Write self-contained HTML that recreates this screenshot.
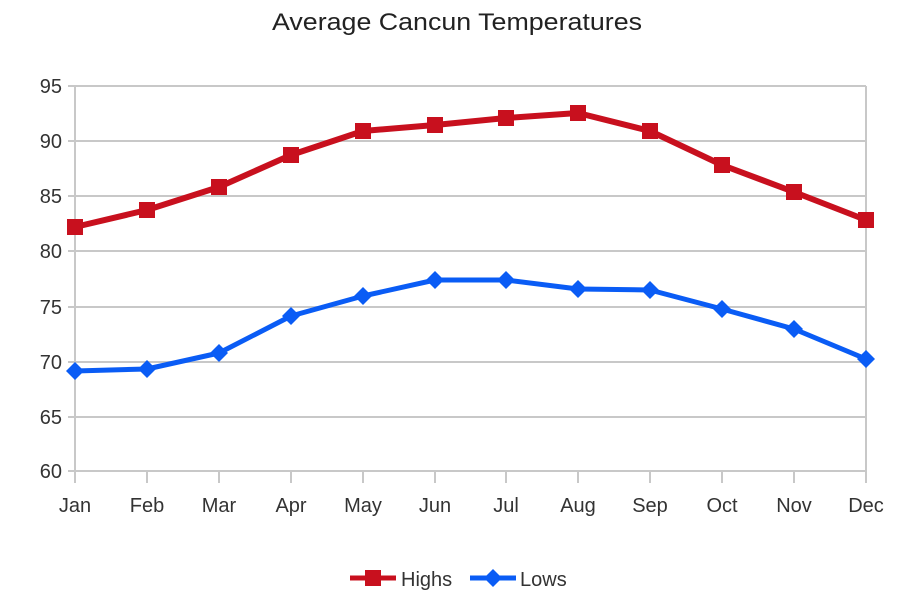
<!DOCTYPE html>
<html><head><meta charset="utf-8"><style>body{margin:0;background:#fff}svg{display:block}</style></head>
<body>
<svg width="900" height="600" xmlns="http://www.w3.org/2000/svg" font-family="Liberation Sans, sans-serif">
<rect width="900" height="600" fill="#fff"/>
<text x="457" y="30" font-size="24" text-anchor="middle" fill="#222" textLength="370" lengthAdjust="spacingAndGlyphs">Average Cancun Temperatures</text>
<g stroke="#c8c8c8" stroke-width="2">
<line x1="68" y1="86" x2="866" y2="86"/><line x1="68" y1="141" x2="866" y2="141"/>
<line x1="68" y1="196" x2="866" y2="196"/><line x1="68" y1="251" x2="866" y2="251"/>
<line x1="68" y1="307" x2="866" y2="307"/><line x1="68" y1="362" x2="866" y2="362"/>
<line x1="68" y1="417" x2="866" y2="417"/><line x1="68" y1="471" x2="866" y2="471"/>
<line x1="75" y1="86" x2="75" y2="483"/><line x1="866" y1="86" x2="866" y2="483"/>
<line x1="147" y1="471" x2="147" y2="483"/><line x1="219" y1="471" x2="219" y2="483"/>
<line x1="291" y1="471" x2="291" y2="483"/><line x1="363" y1="471" x2="363" y2="483"/>
<line x1="435" y1="471" x2="435" y2="483"/><line x1="506" y1="471" x2="506" y2="483"/>
<line x1="578" y1="471" x2="578" y2="483"/><line x1="650" y1="471" x2="650" y2="483"/>
<line x1="722" y1="471" x2="722" y2="483"/><line x1="794" y1="471" x2="794" y2="483"/>
</g>
<g font-size="20" fill="#333" text-anchor="end">
<text x="62" y="93">95</text><text x="62" y="148">90</text><text x="62" y="203">85</text>
<text x="62" y="258">80</text><text x="62" y="314">75</text><text x="62" y="369">70</text>
<text x="62" y="424">65</text><text x="62" y="478">60</text>
</g>
<g font-size="20" fill="#333" text-anchor="middle">
<text x="75" y="512">Jan</text><text x="147" y="512">Feb</text><text x="219" y="512">Mar</text>
<text x="291" y="512">Apr</text><text x="363" y="512">May</text><text x="435" y="512">Jun</text>
<text x="506" y="512">Jul</text><text x="578" y="512">Aug</text><text x="650" y="512">Sep</text>
<text x="722" y="512">Oct</text><text x="794" y="512">Nov</text><text x="866" y="512">Dec</text>
</g>
<polyline fill="none" stroke="#c8101e" stroke-width="6" stroke-linejoin="round" points="75,227 147,210 219,187 291,155 363,131 435,125 506,118 578,113 650,131 722,165 794,192 866,220"/>
<g fill="#c8101e">
<rect x="67" y="219" width="16" height="16"/><rect x="139" y="202" width="16" height="16"/><rect x="211" y="179" width="16" height="16"/>
<rect x="283" y="147" width="16" height="16"/><rect x="355" y="123" width="16" height="16"/><rect x="427" y="117" width="16" height="16"/>
<rect x="498" y="110" width="16" height="16"/><rect x="570" y="105" width="16" height="16"/><rect x="642" y="123" width="16" height="16"/>
<rect x="714" y="157" width="16" height="16"/><rect x="786" y="184" width="16" height="16"/><rect x="858" y="212" width="16" height="16"/>
</g>
<polyline fill="none" stroke="#0a5cf5" stroke-width="5" stroke-linejoin="round" points="75,371 147,369 219,353 291,316 363,296 435,280 506,280 578,289 650,290 722,309 794,329 866,359"/>
<g fill="#0a5cf5">
<path d="M75 362l9 9-9 9-9-9z"/><path d="M147 360l9 9-9 9-9-9z"/><path d="M219 344l9 9-9 9-9-9z"/>
<path d="M291 307l9 9-9 9-9-9z"/><path d="M363 287l9 9-9 9-9-9z"/><path d="M435 271l9 9-9 9-9-9z"/>
<path d="M506 271l9 9-9 9-9-9z"/><path d="M578 280l9 9-9 9-9-9z"/><path d="M650 281l9 9-9 9-9-9z"/>
<path d="M722 300l9 9-9 9-9-9z"/><path d="M794 320l9 9-9 9-9-9z"/><path d="M866 350l9 9-9 9-9-9z"/>
</g>
<line x1="350" y1="578" x2="396" y2="578" stroke="#c8101e" stroke-width="5"/>
<rect x="365" y="570" width="16" height="16" fill="#c8101e"/>
<text x="401" y="586" font-size="20" fill="#333">Highs</text>
<line x1="470" y1="578" x2="516" y2="578" stroke="#0a5cf5" stroke-width="5"/>
<path d="M493 569l9 9-9 9-9-9z" fill="#0a5cf5"/>
<text x="520" y="586" font-size="20" fill="#333">Lows</text>
</svg>
</body></html>
